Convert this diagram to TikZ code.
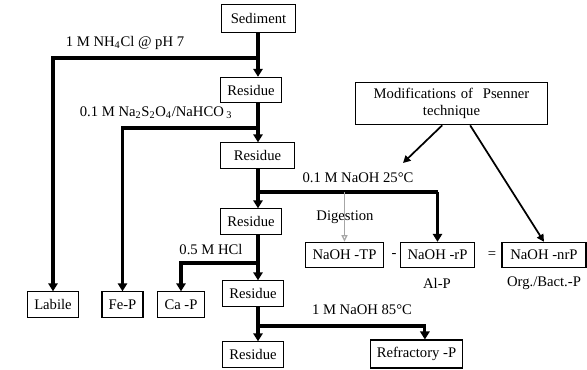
\documentclass[tikz,border=0pt]{standalone}
\usepackage{fontspec}
\setmainfont{Liberation Serif}
\usetikzlibrary{arrows.meta}

\begin{document}
\begin{tikzpicture}[x=.75pt,y=-.75pt,font=\fontsize{11}{12}\selectfont,
  box/.style={draw,line width=.8pt,minimum height=19pt,inner xsep=5pt,inner ysep=2pt},
  flow/.style={line width=2.3pt,-{Triangle[length=6pt,width=7pt]}},
  pipe/.style={line width=2.3pt},
  thinflow/.style={line width=1.3pt,-{Triangle[length=5.5pt,width=5.5pt]}},
  grayflow/.style={line width=.9pt,gray!70,-{Triangle[length=5pt,width=4.5pt,open]}}]
\useasboundingbox (0,0) rectangle (587,369);
% fractionation chain
\node[box,minimum width=56pt,minimum height=21pt] (sed) at (258.5,18.5){Sediment};
\node[box] (res1) at (251,90){Residue};
\node[box,minimum width=56pt] (res2) at (257.5,155.5){Residue};
\node[box] (res3) at (251,221.5){Residue};
\node[box] (res4) at (253,293.5){Residue};
\node[box] (res5) at (253,354.5){Residue};
\node[box] (lab) at (53,304.5){Labile};
\node[box] (fep) at (122.5,304.5){Fe-P};
\node[box] (cap) at (181,304.5){Ca -P};
\node[box,minimum height=21pt] (ref) at (416.5,354){Refractory -P};
\coordinate (j1) at (258,58);\coordinate (j2) at (258,128);\coordinate (j3) at (258,192);
\coordinate (j4) at (258,263);\coordinate (j5) at (258,326);
\draw[flow] (sed.south -| j1)--(res1.north -| j1);\draw[flow] (j1) -| (lab.north);
\draw[flow] (res1.south -| j2)--(res2.north -| j2);\draw[flow] (j2) -| (fep.north);
\draw[flow] (res2.south -| j3)--(res3.north -| j3);
\draw[flow] (res3.south -| j4)--(res4.north -| j4);\draw[flow] (j4) -| (cap.north);
\draw[flow] (res4.south -| j5)--(res5.north -| j5);\draw[flow] (j5) -| (ref.60);
\node (l1) at (125,43){1 M NH\textsubscript{4}Cl @ pH 7};
\node (l2) at (156,113){0.1 M Na\textsubscript{2}S\textsubscript{2}O\textsubscript{4}/NaHCO\,\textsubscript{3}};
\node (l3) at (211,250){0.5 M HCl};
\node (l4) at (362,310){1 M NaOH 85°C};
% Psenner part
\node[box,align=center,text width=134pt,minimum height=32pt,inner ysep=1pt,font=\fontsize{11}{13}\selectfont] (mod) at (451.5,103.5){Modifications of~ Psenner\\technique};
\node (l5) at (358,178){0.1 M NaOH 25°C};
\node (l6) at (345,217){Digestion};
\node[box,minimum width=58pt] (tp) at (344.5,255){NaOH -TP};
\node[box,minimum width=55pt] (rp) at (437.5,255){NaOH -rP};
\node[box,minimum width=63pt] (nrp) at (544,255){NaOH -nrP};
\node (minus) at (394,255){-};\node (eq) at (492,255){=};
\node (alp) at (437,283){Al-P};\node (org) at (544,283){Org./Bact.-P};
\coordinate (m1) at (403,163);
\draw[pipe] (j3) -- (rp.north |- j3);\draw[flow] (rp.north |- j3) -- (rp.north);
\draw[grayflow] (tp.north |- j3) -- (tp.north);
\draw[thinflow] ([xshift=-7pt]mod.south) -- (m1);
\draw[thinflow] ([xshift=14pt]mod.south) -- (nrp.north);
\end{tikzpicture}
\end{document}
